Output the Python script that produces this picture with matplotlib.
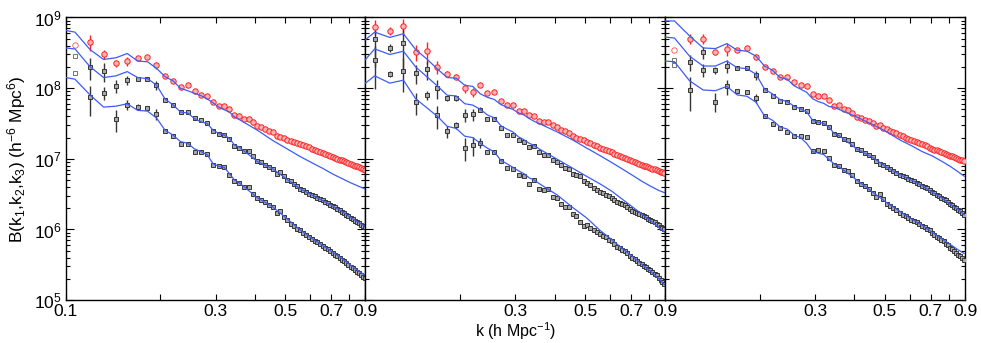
import numpy as np
import matplotlib
matplotlib.use("Agg")
import matplotlib.pyplot as plt
from matplotlib.ticker import NullFormatter

plt.rcParams['font.family'] = ['Liberation Sans', 'DejaVu Sans']
plt.rcParams['mathtext.fontset'] = 'custom'
plt.rcParams['mathtext.rm'] = 'Liberation Sans'
plt.rcParams['mathtext.it'] = 'Liberation Sans:italic'
plt.rcParams['font.size'] = 12.5

# k bins of the measurements (h/Mpc)
k = [0.107, 0.1195, 0.132, 0.1445, 0.157, 0.1695, 0.182, 0.1945, 0.207, 0.2195,
     0.232, 0.2445, 0.257, 0.2695, 0.282, 0.2945, 0.307, 0.3195, 0.332, 0.3445,
     0.357, 0.3695, 0.382, 0.3945, 0.407, 0.4195, 0.432, 0.4445, 0.457, 0.4695,
     0.482, 0.4945, 0.507, 0.5195, 0.532, 0.5445, 0.557, 0.5695, 0.582, 0.5945,
     0.607, 0.6195, 0.632, 0.6445, 0.657, 0.6695, 0.682, 0.6945, 0.707, 0.7195,
     0.732, 0.7445, 0.757, 0.7695, 0.782, 0.7945, 0.807, 0.8195, 0.832, 0.8445,
     0.857, 0.8695, 0.882, 0.8945]
# k nodes of the model curves
k_model = [0.1, 0.107, 0.1195, 0.132, 0.1445, 0.157, 0.1695, 0.182, 0.1945, 0.207,
           0.2195, 0.232, 0.2445, 0.257, 0.2695, 0.282, 0.2945, 0.307, 0.3195, 0.332,
           0.3445, 0.357, 0.407, 0.457, 0.507, 0.557, 0.607, 0.657, 0.707, 0.757,
           0.807, 0.857, 0.8945]

# ---- left panel: log10 B ----
red_L = [8.606, 8.650, 8.480, 8.350, 8.385, 8.420, 8.439, 8.325, 8.169, 8.108,
         8.015, 8.043, 7.960, 7.906, 7.882, 7.799, 7.747, 7.743, 7.708, 7.615,
         7.610, 7.569, 7.569, 7.522, 7.461, 7.452, 7.420, 7.396, 7.373, 7.326,
         7.312, 7.289, 7.272, 7.257, 7.240, 7.222, 7.205, 7.193, 7.180, 7.162,
         7.140, 7.128, 7.110, 7.097, 7.085, 7.070, 7.058, 7.043, 7.025, 7.013,
         7.002, 6.990, 6.978, 6.965, 6.955, 6.940, 6.926, 6.915, 6.905, 6.892,
         6.882, 6.870, 6.858, 6.847]
mid_L = [8.453, 8.297, 8.243, 8.030, 8.118, 8.132, 8.127, 8.043, 7.827, 7.755,
         7.662, 7.657, 7.571, 7.547, 7.503, 7.398, 7.355, 7.340, 7.287, 7.187,
         7.159, 7.112, 7.117, 7.033, 6.963, 6.954, 6.917, 6.880, 6.856, 6.791,
         6.810, 6.754, 6.707, 6.684, 6.638, 6.614, 6.577, 6.554, 6.535, 6.498,
         6.489, 6.469, 6.450, 6.430, 6.414, 6.391, 6.371, 6.352, 6.332, 6.311,
         6.290, 6.269, 6.252, 6.226, 6.205, 6.184, 6.163, 6.144, 6.126, 6.107,
         6.088, 6.070, 6.051, 6.032]
bot_L = [8.215, 7.871, 7.936, 7.564, 7.766, 7.736, 7.725, 7.638, 7.396, 7.326,
         7.215, 7.203, 7.103, 7.090, 7.061, 6.917, 6.894, 6.884, 6.777, 6.684,
         6.651, 6.600, 6.600, 6.507, 6.442, 6.419, 6.382, 6.349, 6.312, 6.228,
         6.265, 6.172, 6.139, 6.079, 6.042, 6.009, 5.986, 5.949, 5.925, 5.893,
         5.865, 5.841, 5.816, 5.792, 5.767, 5.743, 5.718, 5.694, 5.670, 5.645,
         5.621, 5.596, 5.572, 5.547, 5.523, 5.498, 5.474, 5.451, 5.428, 5.404,
         5.381, 5.358, 5.334, 5.311]
model_top_L = [8.816, 8.793, 8.546, 8.406, 8.430, 8.490, 8.383, 8.374, 8.281, 8.164,
               8.104, 7.997, 7.964, 7.927, 7.894, 7.848, 7.792, 7.732, 7.694, 7.662,
               7.592, 7.555, 7.406, 7.257, 7.140, 7.033, 6.945, 6.866, 6.786, 6.721,
               6.661, 6.610, 6.577]
model_mid_L = [8.569, 8.555, 8.304, 8.150, 8.174, 8.234, 8.150, 8.136, 8.043, 7.848,
               7.764, 7.662, 7.648, 7.569, 7.522, 7.499, 7.406, 7.359, 7.336, 7.289,
               7.196, 7.165, 6.963, 6.856, 6.707, 6.577, 6.489, 6.410, 6.332, 6.257,
               6.170, 6.100, 6.045]
model_bot_L = [8.151, 8.127, 7.904, 7.732, 7.745, 7.778, 7.685, 7.676, 7.578, 7.406,
               7.336, 7.243, 7.220, 7.140, 7.103, 7.057, 6.930, 6.895, 6.880, 6.790,
               6.700, 6.660, 6.450, 6.315, 6.150, 5.995, 5.875, 5.775, 5.680, 5.590,
               5.495, 5.410, 5.357]
err_red_L = [0, 0.25, 0.14, 0.10, 0.15, 0.05, 0.05, 0.12, 0.05, 0.04, 0.08, 0.04, 0.04]
err_mid_L = [0, 0.35, 0.30, 0.20, 0.15, 0.06, 0.06, 0.15, 0.05, 0.05, 0.05, 0.04, 0.04]
err_bot_L = [0, 0.45, 0.20, 0.35, 0.15, 0.08, 0.06, 0.18, 0.05, 0.05, 0.05, 0.04, 0.04]

# ---- middle panel ----
red_M = [8.872, 8.811, 8.884, 8.513, 8.523, 8.299, 8.197, 8.164, 7.999, 7.945,
         8.043, 7.936, 7.941, 7.820, 7.755, 7.755, 7.683, 7.674, 7.615, 7.601,
         7.541, 7.522, 7.522, 7.476, 7.452, 7.406, 7.392, 7.360, 7.322, 7.300,
         7.285, 7.262, 7.240, 7.220, 7.200, 7.175, 7.150, 7.140, 7.125, 7.110,
         7.095, 7.075, 7.056, 7.045, 7.030, 7.015, 7.000, 6.985, 6.963, 6.950,
         6.940, 6.930, 6.918, 6.905, 6.892, 6.885, 6.875, 6.862, 6.850, 6.840,
         6.830, 6.820, 6.810, 6.800]
mid_M = [8.695, 8.569, 8.639, 8.211, 8.267, 7.997, 7.857, 7.857, 7.624, 7.629,
         7.694, 7.559, 7.559, 7.438, 7.336, 7.330, 7.263, 7.243, 7.170, 7.187,
         7.100, 7.060, 7.050, 6.980, 6.960, 6.910, 6.870, 6.850, 6.790, 6.770,
         6.750, 6.690, 6.660, 6.630, 6.590, 6.560, 6.535, 6.510, 6.490, 6.470,
         6.450, 6.420, 6.395, 6.380, 6.360, 6.340, 6.320, 6.290, 6.265, 6.250,
         6.235, 6.220, 6.200, 6.185, 6.170, 6.155, 6.140, 6.120, 6.100, 6.080,
         6.060, 6.040, 6.020, 6.005]
bot_M = [8.393, 8.197, 8.244, 7.801, 7.904, 7.615, 7.392, 7.476, 7.159, 7.196,
         7.229, 7.103, 7.103, 6.973, 6.870, 6.850, 6.772, 6.754, 6.647, 6.707,
         6.568, 6.558, 6.568, 6.461, 6.451, 6.367, 6.312, 6.312, 6.219, 6.186,
         6.100, 6.050, 6.060, 6.020, 5.990, 5.960, 5.939, 5.910, 5.890, 5.850,
         5.830, 5.790, 5.753, 5.735, 5.710, 5.690, 5.665, 5.630, 5.590, 5.575,
         5.550, 5.530, 5.510, 5.490, 5.470, 5.445, 5.427, 5.400, 5.375, 5.350,
         5.320, 5.290, 5.260, 5.225]
model_top_M = [8.686, 8.793, 8.718, 8.770, 8.545, 8.410, 8.270, 8.150, 8.141, 8.040,
               8.025, 7.920, 7.870, 7.840, 7.770, 7.730, 7.700, 7.650, 7.620, 7.570,
               7.530, 7.500, 7.382, 7.266, 7.150, 7.047, 6.949, 6.856, 6.768, 6.684,
               6.614, 6.554, 6.521]
model_mid_M = [8.406, 8.555, 8.476, 8.523, 8.300, 8.160, 8.030, 7.900, 7.890, 7.780,
               7.760, 7.700, 7.620, 7.580, 7.470, 7.420, 7.380, 7.310, 7.270, 7.220,
               7.190, 7.140, 6.996, 6.866, 6.749, 6.647, 6.544, 6.428, 6.321, 6.219,
               6.125, 6.032, 5.963]
model_bot_M = [8.071, 8.174, 8.071, 8.113, 7.850, 7.720, 7.600, 7.460, 7.430, 7.320,
               7.300, 7.220, 7.150, 7.100, 6.980, 6.930, 6.880, 6.830, 6.790, 6.730,
               6.700, 6.650, 6.490, 6.310, 6.160, 5.990, 5.860, 5.730, 5.620, 5.510,
               5.410, 5.310, 5.220]
err_red_M = [0.25, 0.12, 0.25, 0.25, 0.35, 0.20, 0.10, 0.08, 0.15, 0.15, 0.05, 0.05, 0.05]
err_mid_M = [0.60, 0.12, 0.60, 0.30, 0.30, 0.30, 0.08, 0.08, 0.20, 0.20, 0.08, 0.05, 0.05]
err_bot_M = [0.60, 0.10, 0.50, 0.35, 0.15, 0.35, 0.20, 0.12, 0.35, 0.30, 0.15, 0.05, 0.05]

# ---- right panel ----
red_R = [8.537, 8.700, 8.700, 8.509, 8.555, 8.537, 8.569, 8.444, 8.299, 8.244,
         8.164, 8.164, 8.090, 8.043, 8.025, 7.918, 7.894, 7.885, 7.838, 7.741,
         7.755, 7.708, 7.694, 7.648, 7.592, 7.582, 7.555, 7.531, 7.503, 7.461,
         7.485, 7.443, 7.420, 7.400, 7.380, 7.360, 7.335, 7.320, 7.300, 7.285,
         7.270, 7.250, 7.235, 7.220, 7.205, 7.190, 7.175, 7.160, 7.145, 7.130,
         7.120, 7.105, 7.090, 7.078, 7.066, 7.055, 7.045, 7.035, 7.020, 7.010,
         7.000, 6.990, 6.980, 6.970]
mid_R = [8.402, 8.369, 8.509, 8.253, 8.313, 8.290, 8.281, 8.183, 7.974, 7.894,
         7.820, 7.801, 7.731, 7.712, 7.676, 7.538, 7.520, 7.513, 7.452, 7.345,
         7.336, 7.275, 7.266, 7.206, 7.140, 7.126, 7.080, 7.047, 7.024, 6.963,
         6.931, 6.907, 6.880, 6.860, 6.830, 6.800, 6.777, 6.760, 6.740, 6.720,
         6.700, 6.680, 6.655, 6.638, 6.620, 6.600, 6.585, 6.555, 6.530, 6.510,
         6.490, 6.470, 6.450, 6.430, 6.410, 6.385, 6.360, 6.340, 6.320, 6.300,
         6.280, 6.260, 6.240, 6.210]
bot_R = [8.323, 7.978, 8.258, 7.811, 8.025, 7.955, 7.946, 7.857, 7.601, 7.499,
         7.438, 7.382, 7.327, 7.327, 7.308, 7.112, 7.122, 7.112, 7.010, 6.907,
         6.893, 6.847, 6.824, 6.768, 6.684, 6.647, 6.614, 6.568, 6.521, 6.461,
         6.498, 6.428, 6.360, 6.335, 6.300, 6.275, 6.240, 6.210, 6.190, 6.160,
         6.140, 6.120, 6.102, 6.080, 6.055, 6.035, 6.010, 5.990, 5.945, 5.920,
         5.900, 5.875, 5.850, 5.830, 5.800, 5.775, 5.744, 5.720, 5.695, 5.670,
         5.645, 5.620, 5.595, 5.567]
model_top_R = [8.951, 8.951, 8.740, 8.569, 8.560, 8.630, 8.537, 8.523, 8.453, 8.313,
               8.253, 8.150, 8.127, 8.034, 7.987, 7.941, 7.850, 7.810, 7.785, 7.740,
               7.730, 7.700, 7.592, 7.485, 7.382, 7.270, 7.187, 7.103, 7.042, 6.968,
               6.894, 6.814, 6.754]
model_mid_R = [8.723, 8.709, 8.453, 8.313, 8.313, 8.383, 8.290, 8.276, 8.197, 7.987,
               7.918, 7.838, 7.811, 7.745, 7.708, 7.662, 7.545, 7.520, 7.500, 7.450,
               7.360, 7.330, 7.140, 7.020, 6.880, 6.780, 6.700, 6.620, 6.530, 6.450,
               6.360, 6.280, 6.210]
model_bot_R = [8.383, 8.374, 8.104, 7.974, 7.964, 8.025, 7.904, 7.885, 7.801, 7.606,
               7.545, 7.452, 7.420, 7.336, 7.299, 7.219, 7.103, 7.080, 7.060, 6.990,
               6.930, 6.890, 6.700, 6.530, 6.380, 6.260, 6.150, 6.060, 5.960, 5.870,
               5.790, 5.710, 5.660]
err_red_R = [0, 0.15, 0.15, 0.08, 0.20, 0.05, 0.05, 0.10, 0.04, 0.04, 0.04, 0.04, 0.04]
err_mid_R = [0, 0.25, 0.20, 0.12, 0.20, 0.05, 0.05, 0.15, 0.05, 0.04, 0.04, 0.04, 0.04]
err_bot_R = [0, 0.50, 0.20, 0.30, 0.25, 0.06, 0.06, 0.15, 0.06, 0.05, 0.05, 0.04, 0.04]

xticks = [0.1, 0.3, 0.5, 0.7, 0.9]
xminor = [0.2, 0.4, 0.6, 0.8]
open_first = [True, False, True]  # first bin drawn as open marker

panels = [
    (red_L, mid_L, bot_L, err_red_L, err_mid_L, err_bot_L, model_top_L, model_mid_L, model_bot_L),
    (red_M, mid_M, bot_M, err_red_M, err_mid_M, err_bot_M, model_top_M, model_mid_M, model_bot_M),
    (red_R, mid_R, bot_R, err_red_R, err_mid_R, err_bot_R, model_top_R, model_mid_R, model_bot_R),
]

fig, axes = plt.subplots(1, 3, sharey=True, figsize=(9.81, 3.43), dpi=100)
plt.subplots_adjust(left=0.067, right=0.9837, bottom=0.125, top=0.949, wspace=0)

kk = np.array(k)
n_err = len(err_red_L)
for j, (ax, p) in enumerate(zip(axes, panels)):
    red, mid, bot, er, em, eb, mt, mm, mb = p
    series = [(red, er, '#ff2020', 'o', '#f8b4b4', 3.9),
              (mid, em, '#353535', 's', '#a8a8a8', 3.2),
              (bot, eb, '#353535', 's', '#a8a8a8', 3.2)]
    s0 = 1 if open_first[j] else 0
    for logs, err, col, mk, fc, ms in series:
        B = 10 ** np.array(logs)
        ax.errorbar(kk[:n_err], B[:n_err], yerr=B[:n_err] * np.array(err),
                    fmt='none', ecolor=col, elinewidth=1.0, capsize=0, zorder=2)
        ax.plot(kk[s0:], B[s0:], ls='none', marker=mk, ms=ms, mec=col, mfc=fc,
                mew=0.7, zorder=3)
        if s0:
            ax.plot(kk[:1], B[:1], ls='none', marker=mk, ms=ms, mec=col, mfc='white',
                    mew=0.6, alpha=0.8, zorder=3)
    for logs in (mt, mm, mb):
        ax.plot(k_model, 10 ** np.array(logs), color='#3d5cf5', lw=0.9, zorder=4)

    ax.set_xscale('log')
    ax.set_yscale('log')
    ax.set_xlim(0.1, 0.9)
    ax.set_ylim(1e5, 1e9)
    ax.set_xticks(xticks)
    if j == 0:
        ax.set_xticklabels(['0.1', '0.3', '0.5', '0.7', '0.9'])
    else:
        ax.set_xticklabels(['', '0.3', '0.5', '0.7', '0.9'])
    ax.set_xticks(xminor, minor=True)
    ax.xaxis.set_minor_formatter(NullFormatter())
    ax.tick_params(which='both', direction='in', top=True, right=True, width=0.8)
    ax.tick_params(axis='x', which='both', length=4, pad=3)
    ax.tick_params(axis='y', which='major', length=6, pad=3)
    ax.tick_params(axis='y', which='minor', length=3)
    for s in ax.spines.values():
        s.set_linewidth(1.0)

axes[0].set_ylabel('B(k$_1$,k$_2$,k$_3$) (h$^{-6}$ Mpc$^6$)', labelpad=4)
axes[1].set_xlabel('k (h Mpc$^{-1}$)', fontsize=11.5)
axes[1].xaxis.set_label_coords(0.5, -0.072)

fig.savefig('out.png', dpi=100)
